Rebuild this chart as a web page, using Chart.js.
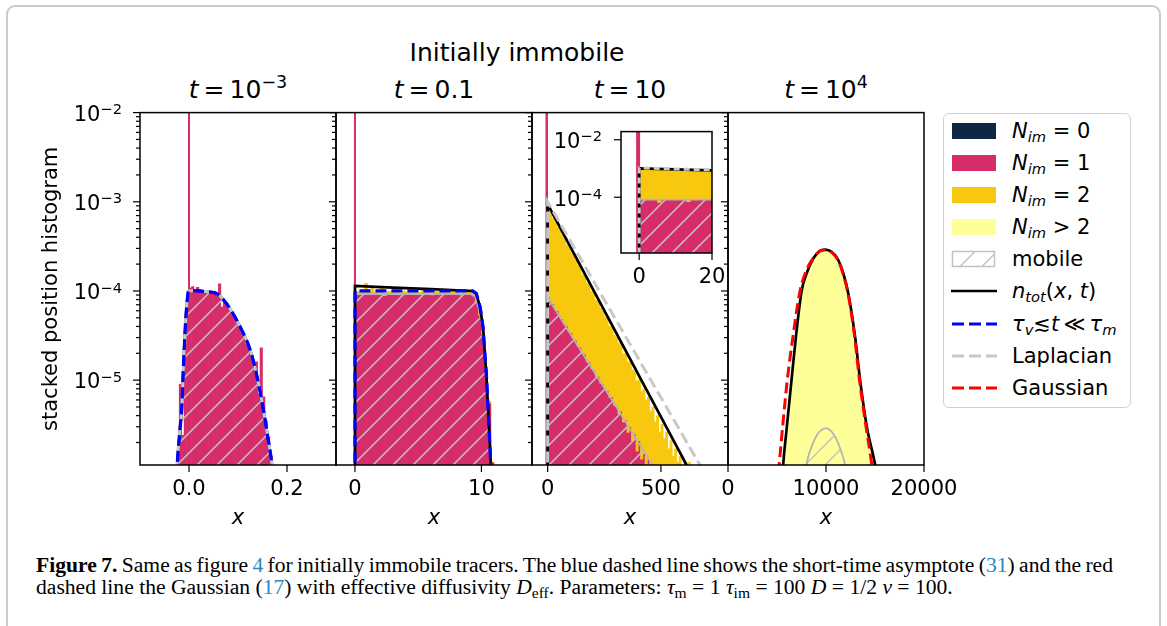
<!DOCTYPE html>
<html>
<head>
<meta charset="utf-8">
<title>Initially immobile</title>
<script src="https://cdn.jsdelivr.net/npm/chart.js@4/dist/chart.umd.min.js"></script>
<style>
  html, body { margin: 0; padding: 0; background: #fff; }
  body { width: 1167px; height: 626px; position: relative; overflow: hidden; font-family: "DejaVu Sans", sans-serif; color: #000; }
  .frame { position: absolute; left: 6px; top: 5px; width: 1155px; height: 700px; box-sizing: border-box; border: 2px solid #cbcbcb; border-radius: 9px; }
  canvas { position: absolute; }
  .ttl { position: absolute; white-space: nowrap; font-size: 25px; line-height: 30px; transform: translateX(-50%); }
  .ttl sup { font-size: 70%; line-height: 0; vertical-align: 0.55em; }
  .legend { position: absolute; left: 943px; top: 113px; width: 188px; height: 295px; box-sizing: border-box; border: 1.5px solid #d0d0d0; border-radius: 6px; background: #fff; }
  .lg { position: absolute; left: 0; height: 32px; width: 185px; }
  .lg svg { position: absolute; left: 7px; top: 7px; }
  .lg .t { position: absolute; left: 68px; top: 2px; font-size: 21px; line-height: 28px; white-space: nowrap; }
  .lg sub { font-size: 70%; line-height: 0; vertical-align: -0.3em; }
  .cap { position: absolute; left: 36px; font-family: "Liberation Serif", serif; font-size: 21.6px; line-height: 22px; white-space: nowrap; }
  .cap .ref { color: #2a88c0; }
  .cap sub { font-size: 72%; line-height: 0; vertical-align: -0.25em; }
</style>
</head>
<body>
<div class="frame"></div>

<div class="ttl" style="left:517px; top:38px">Initially immobile</div>
<div class="ttl" style="left:238px; top:75px"><i>t</i>&thinsp;=&thinsp;10<sup>−3</sup></div>
<div class="ttl" style="left:434px; top:75px"><i>t</i>&thinsp;=&thinsp;0.1</div>
<div class="ttl" style="left:630px; top:75px"><i>t</i>&thinsp;=&thinsp;10</div>
<div class="ttl" style="left:826px; top:75px"><i>t</i>&thinsp;=&thinsp;10<sup>4</sup></div>

<canvas id="c1" width="366" height="458" style="left:20px; top:82px"></canvas>
<canvas id="c2" width="266" height="458" style="left:316px; top:82px"></canvas>
<canvas id="c3" width="266" height="458" style="left:512px; top:82px"></canvas>
<canvas id="c4" width="266" height="458" style="left:708px; top:82px"></canvas>
<canvas id="c3in" width="197" height="193" style="left:545px; top:100px"></canvas>

<div class="legend">
  <div class="lg" style="top:0.5px"><svg width="46" height="18"><rect x="1" y="1" width="44" height="16" fill="#0d2745"/></svg><span class="t"><i>N</i><sub><i>im</i></sub> = 0</span></div>
  <div class="lg" style="top:32.5px"><svg width="46" height="18"><rect x="1" y="1" width="44" height="16" fill="#d62d6a"/></svg><span class="t"><i>N</i><sub><i>im</i></sub> = 1</span></div>
  <div class="lg" style="top:65px"><svg width="46" height="18"><rect x="1" y="1" width="44" height="16" fill="#f8c80e"/></svg><span class="t"><i>N</i><sub><i>im</i></sub> = 2</span></div>
  <div class="lg" style="top:97px"><svg width="46" height="18"><rect x="1" y="1" width="44" height="16" fill="#ffff99"/></svg><span class="t"><i>N</i><sub><i>im</i></sub> &gt; 2</span></div>
  <div class="lg" style="top:129px"><svg width="46" height="18"><rect x="1.5" y="1.5" width="42" height="15" fill="#fff" stroke="#c2c2c2" stroke-width="1.5"/><line x1="9" y1="16.5" x2="24" y2="1.5" stroke="#c2c2c2" stroke-width="1.5"/><line x1="31" y1="16.5" x2="43.5" y2="4" stroke="#c2c2c2" stroke-width="1.5"/></svg><span class="t">mobile</span></div>
  <div class="lg" style="top:161px"><svg width="46" height="18"><line x1="0" y1="9" x2="46" y2="9" stroke="#000" stroke-width="2.7"/></svg><span class="t"><i>n</i><sub><i>tot</i></sub>(<i>x</i>, <i>t</i>)</span></div>
  <div class="lg" style="top:194px"><svg width="46" height="18"><line x1="1" y1="9" x2="46" y2="9" stroke="#0000ff" stroke-width="3" stroke-dasharray="12 5"/></svg><span class="t"><i>τ</i><sub><i>v</i></sub>≲<i>t</i>&thinsp;≪&thinsp;<i>τ</i><sub><i>m</i></sub></span></div>
  <div class="lg" style="top:225.5px"><svg width="46" height="18"><line x1="1" y1="9" x2="46" y2="9" stroke="#c8c8c8" stroke-width="3" stroke-dasharray="12 5"/></svg><span class="t">Laplacian</span></div>
  <div class="lg" style="top:258px"><svg width="46" height="18"><line x1="1" y1="9" x2="46" y2="9" stroke="#ff0000" stroke-width="3" stroke-dasharray="12 5"/></svg><span class="t">Gaussian</span></div>
</div>

<div class="cap" id="cap1" style="top:553.7px"><b>Figure 7.</b> Same as figure <span class="ref">4</span> for initially immobile tracers. The blue dashed line shows the short-time asymptote (<span class="ref">31</span>) and the red</div>
<div class="cap" id="cap2" style="top:575.7px">dashed line the Gaussian (<span class="ref">17</span>) with effective diffusivity <i>D</i><sub>eff</sub>. Parameters: <i>τ</i><sub>m</sub>&nbsp;=&nbsp;1 <i>τ</i><sub>im</sub>&nbsp;=&nbsp;100 <i>D</i>&nbsp;=&nbsp;1/2 <i>ν</i>&nbsp;=&nbsp;100.</div>

<script>
// ---------- shared axes ----------
var yMin = 1.118e-6, yMax = 1e-2;
var yTicks = [2e-6, 3e-6, 4e-6, 5e-6, 6e-6, 7e-6, 8e-6, 9e-6,
  1e-5, 2e-5, 3e-5, 4e-5, 5e-5, 6e-5, 7e-5, 8e-5, 9e-5,
  1e-4, 2e-4, 3e-4, 4e-4, 5e-4, 6e-4, 7e-4, 8e-4, 9e-4,
  1e-3, 2e-3, 3e-3, 4e-3, 5e-3, 6e-3, 7e-3, 8e-3, 9e-3, 1e-2];

// ---------- panel 1 : t = 1e-3 ----------
var p1Ticks = [0, 0.2];
var p1TickLabels = ['0.0', '0.2'];
var p1Bins = [-0.0175, -0.0125, -0.0075, -0.0025, 0.0025, 0.0075, 0.0125, 0.0175, 0.0225, 0.0275,
  0.0325, 0.0375, 0.0425, 0.0475, 0.0525, 0.0575, 0.0625, 0.0675, 0.0725, 0.0775,
  0.0825, 0.0875, 0.0925, 0.0975, 0.1025, 0.1075, 0.1125, 0.1175, 0.1225, 0.1275,
  0.1325, 0.1375, 0.1425, 0.1475, 0.1525, 0.1575, 0.1625, 0.1675];
var p1Nim1 = [9e-6, 2.4e-6, 2.5e-5, 7.5e-5, 1.08e-4, 1.12e-4, 1.0e-4, 1.1e-4, 1.04e-4, 9.8e-5,
  1.0e-4, 9.5e-5, 9.9e-5, 9.2e-5, 9.4e-5, 8.8e-5, 1.2e-4, 6.6e-5, 7.6e-5, 7.2e-5,
  6.3e-5, 5.8e-5, 5.0e-5, 4.3e-5, 4.2e-5, 3.4e-5, 3.0e-5, 2.5e-5, 2.3e-5, 1.9e-5,
  1.5e-5, 1.6e-5, 7.0e-6, 2.3e-5, 6.5e-6, 3.5e-6, 2.3e-6, 1.4e-6];
var p1CurveX = [-0.026, -0.022, -0.018, -0.015, -0.0117, -0.0068, -0.003, -0.001, 0.01, 0.03,
  0.045, 0.057, 0.07, 0.084, 0.104, 0.125, 0.139, 0.152, 0.162, 0.169, 0.172];
var p1CurveY = [8e-7, 1.65e-6, 3.0e-6, 4.6e-6, 1.3e-5, 4.7e-5, 8.5e-5, 1.0e-4, 1.01e-4, 9.9e-5,
  9.7e-5, 9.35e-5, 8.0e-5, 6.3e-5, 4.0e-5, 2.17e-5, 1.09e-5, 4.6e-6, 2.1e-6, 1.17e-6, 8e-7];

// ---------- panel 2 : t = 0.1 ----------
var p2Ticks = [0, 10];
var p2TickLabels = ['0', '10'];
var p2Bins = [0.125, 0.375, 0.625, 0.875, 1.125, 1.375, 1.625, 1.875, 2.125, 2.375,
  2.625, 2.875, 3.125, 3.375, 3.625, 3.875, 4.125, 4.375, 4.625, 4.875,
  5.125, 5.375, 5.625, 5.875, 6.125, 6.375, 6.625, 6.875, 7.125, 7.375,
  7.625, 7.875, 8.125, 8.375, 8.625, 8.875, 9.125, 9.375, 9.625, 9.875,
  10.125, 10.375, 10.625, 10.875];
var p2Nim1 = [9.6e-5, 9.3e-5, 9.5e-5, 9.1e-5, 9.4e-5, 9.6e-5, 9.2e-5, 9.5e-5, 9.3e-5, 8.9e-5,
  9.4e-5, 9.5e-5, 9.2e-5, 9.4e-5, 9.0e-5, 9.5e-5, 9.3e-5, 9.6e-5, 9.2e-5, 9.4e-5,
  9.1e-5, 9.5e-5, 9.3e-5, 9.4e-5, 9.0e-5, 9.5e-5, 9.3e-5, 9.2e-5, 9.5e-5, 9.1e-5,
  9.4e-5, 9.3e-5, 9.5e-5, 9.0e-5, 9.3e-5, 9.4e-5, 9.2e-5, 8.8e-5, 7.6e-5, 5.4e-5,
  3.3e-5, 1.3e-5, 5.5e-6, 1.2e-6];
var p2Nim2Top = [1.0e-4, 9.8e-5, 1.0e-4, 1.22e-4, 9.9e-5, 1.1e-4, 9.7e-5, 1.0e-4, 1.07e-4, 9.4e-5,
  9.9e-5, 1.0e-4, 1.06e-4, 9.9e-5, 9.5e-5, 1.0e-4, 9.8e-5, 1.01e-4, 9.7e-5, 9.9e-5,
  9.6e-5, 1.05e-4, 9.8e-5, 9.9e-5, 9.5e-5, 1.0e-4, 9.8e-5, 9.7e-5, 1.0e-4, 9.6e-5,
  9.9e-5, 9.8e-5, 1.04e-4, 9.5e-5, 9.8e-5, 1.03e-4, 9.7e-5, 9.3e-5, 8.0e-5, 5.7e-5,
  3.5e-5, 1.4e-5, 5.8e-6, 1.2e-6];
var p2TotX = [0, 0, 3, 6, 9.3, 9.6, 9.9, 10.13, 10.4, 10.6, 10.75, 10.85];
var p2TotY = [1e-7, 1.14e-4, 1.09e-4, 1.05e-4, 1.0e-4, 9.3e-5, 6.5e-5, 3.9e-5, 1.09e-5, 3.0e-6, 1.1e-6, 5e-7];
var p2ShortX = [0, 0, 9.3, 9.6, 9.9, 10.13, 10.4, 10.6, 10.74, 10.85];
var p2ShortY = [1e-7, 1.0e-4, 1.0e-4, 9.35e-5, 6.6e-5, 3.95e-5, 1.09e-5, 3.0e-6, 1.12e-6, 5e-7];
var p2MobX = [0, 0, 9.2, 9.5, 9.8, 10.1, 10.4, 10.6, 10.75, 10.85];
var p2MobY = [1e-7, 9.3e-5, 9.2e-5, 8.6e-5, 6.3e-5, 3.8e-5, 1.05e-5, 2.9e-6, 1.0e-6, 5e-7];

// ---------- panel 3 : t = 10 ----------
var p3Ticks = [0, 500];
var p3TickLabels = ['0', '500'];
var p3Bins = [5, 15, 25, 35, 45, 55, 65, 75, 85, 95, 105, 115, 125, 135, 145, 155, 165, 175, 185, 195,
  205, 215, 225, 235, 245, 255, 265, 275, 285, 295, 305, 315, 325, 335, 345, 355, 365, 375, 385, 395,
  405, 415, 425, 435, 445, 455, 465, 475, 485, 495, 505, 515, 525, 535, 545, 555, 565, 575, 585, 595,
  605, 615, 625, 635, 645, 655];
var p3Nim1 = [8.6e-5, 7.6e-5, 7.2e-5, 6.2e-5, 6.0e-5, 5.2e-5, 4.9e-5, 4.3e-5, 4.1e-5, 3.5e-5,
  3.4e-5, 2.9e-5, 2.8e-5, 2.4e-5, 2.35e-5, 2.0e-5, 1.95e-5, 1.6e-5, 1.6e-5, 1.35e-5,
  1.3e-5, 1.1e-5, 1.1e-5, 9.2e-6, 9.0e-6, 7.8e-6, 7.6e-6, 6.4e-6, 6.5e-6, 5.2e-6,
  5.0e-6, 4.2e-6, 4.5e-6, 3.4e-6, 3.6e-6, 2.6e-6, 3.0e-6, 2.1e-6, 2.5e-6, 1.6e-6,
  2.1e-6, 1.3e-6, 1.5e-6, null, 1.3e-6, null, null, null, null, null,
  null, null, null, null, null, null, null, null, null, null,
  null, null, null, null, null, null];
var p3Nim2Top = [8.3e-4, 7.5e-4, 6.5e-4, 6.0e-4, 5.2e-4, 4.8e-4, 4.2e-4, 3.9e-4, 3.3e-4, 3.1e-4,
  2.7e-4, 2.5e-4, 2.2e-4, 1.95e-4, 1.8e-4, 1.55e-4, 1.45e-4, 1.25e-4, 1.15e-4, 1.0e-4,
  9.3e-5, 8.0e-5, 7.5e-5, 6.4e-5, 6.0e-5, 5.1e-5, 4.9e-5, 4.1e-5, 3.9e-5, 3.2e-5,
  3.1e-5, 2.6e-5, 2.5e-5, 2.0e-5, 2.0e-5, 1.6e-5, 1.6e-5, 1.3e-5, 1.25e-5, 1.0e-5,
  1.05e-5, 7.5e-6, 8.0e-6, 6.0e-6, 6.5e-6, 4.5e-6, 5.0e-6, 3.4e-6, 4.0e-6, 2.6e-6,
  3.2e-6, 2.2e-6, 2.6e-6, 1.7e-6, 2.1e-6, 1.4e-6, 1.7e-6, 1.2e-6, 1.4e-6, null,
  1.25e-6, null, 1.2e-6, null, null, null];
var p3Nim3X = [155, 175, 195, 215, 245, 275, 305, 335, 365, 395, 425];
var p3Nim3Top = [1.72e-4, 1.38e-4, 1.1e-4, 8.8e-5, 6.6e-5, 4.6e-5, 3.4e-5, 2.25e-5, 1.75e-5, 1.12e-5, 8.8e-6];
var p3TotX = [0, 0, 613, 700];
var p3TotY = [1e-7, 9.4e-4, 1.12e-6, 4.3e-7];
var p3LapX = [0, 0, 672, 760];
var p3LapY = [1e-7, 1.0e-3, 1.12e-6, 4.6e-7];
var p3MobX = [0, 0, 100, 200, 300, 400, 470, 520];
var p3MobY = [1e-7, 8.5e-5, 3.3e-5, 1.3e-5, 5.2e-6, 2.0e-6, 1.05e-6, 6e-7];

// inset of panel 3
var inTicksX = [0, 20];
var inTickLabelsX = ['0', '20'];
var inTicksY = [1e-4, 1e-2];
var inBins = [0.5, 1.5, 2.5, 3.5, 4.5, 5.5, 6.5, 7.5, 8.5, 9.5, 10.5, 11.5, 12.5, 13.5, 14.5, 15.5, 16.5, 17.5, 18.5, 19.5];
var inNim1 = [8.8e-5, 8.6e-5, 8.9e-5, 8.7e-5, 8.5e-5, 6.6e-5, 8.8e-5, 8.6e-5, 8.9e-5, 8.4e-5,
  8.7e-5, 8.8e-5, 8.5e-5, 7.0e-5, 8.6e-5, 8.8e-5, 8.5e-5, 8.9e-5, 8.6e-5, 9.0e-5];
var inNim2Top = [1.0e-3, 1.02e-3, 9.9e-4, 9.8e-4, 9.8e-4, 9.6e-4, 9.7e-4, 9.5e-4, 9.5e-4, 9.4e-4,
  9.3e-4, 9.3e-4, 9.2e-4, 9.1e-4, 9.1e-4, 9.0e-4, 8.9e-4, 8.9e-4, 8.8e-4, 8.7e-4];
var inTotX = [0, 0, 21];
var inTotY = [1e-7, 1.01e-3, 8.6e-4];
var inLapX = [0, 0, 21];
var inLapY = [1e-7, 1.04e-3, 8.9e-4];
var inMobX = [0, 0, 21];
var inMobY = [1e-7, 8.2e-5, 8.2e-5];

// ---------- panel 4 : t = 1e4 ----------
var p4Ticks = [0, 10000, 20000];
var p4TickLabels = ['0', '10000', '20000'];
var p4Bins = [5875, 6125, 6375, 6625, 6875, 7125, 7375, 7625, 7875, 8125, 8375, 8625, 8875, 9125, 9375,
  9625, 9875, 10125, 10375, 10625, 10875, 11125, 11375, 11625, 11875, 12125, 12375, 12625, 12875,
  13125, 13375, 13625, 13875, 14125, 14375, 14625, 14875];
var p4NimMore = [1.9e-6, 3.8e-6, 7.3e-6, 1.35e-5, 2.5e-5, 4.3e-5, 7.2e-5, 1.05e-4, 1.32e-4, 1.6e-4, 1.88e-4,
  2.12e-4, 2.36e-4, 2.55e-4, 2.7e-4, 2.8e-4, 2.84e-4, 2.8e-4, 2.74e-4, 2.64e-4, 2.45e-4, 2.25e-4,
  2.02e-4, 1.68e-4, 1.36e-4, 1.06e-4, 7.6e-5, 5.2e-5, 3.4e-5, 2.1e-5, 1.2e-5, 7.4e-6, 4.7e-6,
  3.0e-6, 2.2e-6, 1.7e-6, 1.25e-6];
var p4TotX = [5500, 5630, 5970, 6480, 6930, 7510, 8020, 8700, 9390, 9900, 10580, 11260, 11770, 12280, 12970, 13480, 14165, 15015, 15150];
var p4TotY = [6e-7, 1.12e-6, 2.75e-6, 1.0e-5, 3.05e-5, 1.0e-4, 1.57e-4, 2.31e-4, 2.81e-4, 2.91e-4, 2.74e-4, 2.21e-4, 1.57e-4, 9.3e-5, 3.05e-5, 1.0e-5, 3.0e-6, 1.12e-6, 9e-7];
var p4GaussX = [5000, 5220, 5600, 6050, 6650, 7350, 8000, 8700, 9400, 9950, 10600, 11250, 11750, 12250, 12900, 13420, 14050, 14680, 14850];
var p4GaussY = [6e-7, 1.12e-6, 3.2e-6, 1.0e-5, 3.2e-5, 1.0e-4, 1.7e-4, 2.34e-4, 2.82e-4, 2.88e-4, 2.69e-4, 2.19e-4, 1.55e-4, 9.3e-5, 3.2e-5, 1.0e-5, 3.2e-6, 1.12e-6, 8e-7];
var p4MobX = [7900, 8020, 8500, 9000, 9500, 10000, 10500, 11000, 11500, 11950, 12100];
var p4MobY = [8e-7, 1.12e-6, 1.75e-6, 2.35e-6, 2.75e-6, 2.9e-6, 2.7e-6, 2.25e-6, 1.65e-6, 1.12e-6, 9e-7];

// ---------- colours ----------
var PINK = '#d62d6a', GOLD = '#f8c80e', PALE = '#ffff99', NAVY = '#0d2745';
var LAPGRAY = '#c8c8c8', MOBGRAY = '#b4b4b4';

Chart.defaults.font.family = 'DejaVu Sans';
Chart.defaults.color = '#000';

function isPow10(v) {
  var l = Math.log10(v);
  return Math.abs(l - Math.round(l)) < 1e-6;
}

// diagonal hatch used for the "mobile" histogram
var hatch = (function() {
  var c = document.createElement('canvas');
  c.width = 20; c.height = 20;
  var g = c.getContext('2d');
  g.strokeStyle = '#c4c4c4';
  g.lineWidth = 1.5;
  g.beginPath();
  g.moveTo(0, 20); g.lineTo(20, 0);
  g.moveTo(-5, 5); g.lineTo(5, -5);
  g.moveTo(15, 25); g.lineTo(25, 15);
  g.stroke();
  return g.createPattern(c, 'repeat');
})();

function pts(xs, ys) {
  return xs.map(function(x, i) { return {x: x, y: ys[i]}; });
}
// floating bars, lo..hi ; lo missing -> from the bottom of the axis
function bars(xs, lo, hi) {
  return xs.map(function(x, i) {
    if (hi[i] == null) return {x: x, y: null};
    var b = lo ? lo[i] : null;
    return {x: x, y: [b == null ? yMin : b, hi[i]]};
  });
}
function barSet(data, color) {
  return {type: 'bar', data: data, backgroundColor: color, borderWidth: 0};
}
function lineSet(data, color, width, dash, extra) {
  var d = {type: 'line', data: data, borderColor: color, borderWidth: width, borderDash: dash || [],
    pointRadius: 0, fill: false, tension: 0};
  for (var k in extra) d[k] = extra[k];
  return d;
}
function mobileSet(data, extra) {
  var d = {type: 'line', data: data, borderColor: MOBGRAY, borderWidth: 1.8, backgroundColor: hatch,
    pointRadius: 0, fill: 'start', tension: 0};
  for (var k in extra) d[k] = extra[k];
  return d;
}
function spikeSet(x, w) {
  return lineSet([{x: x, y: 1e-7}, {x: x, y: 1}], PINK, w);
}

// "10" with a raised exponent, right aligned at xr, centred on y
function drawPow(ctx, v, xr, y) {
  var e = Math.round(Math.log10(v));
  var ex = (e < 0 ? '\u2212' : '') + Math.abs(e);
  ctx.font = '14.7px "DejaVu Sans"';
  var we = ctx.measureText(ex).width;
  ctx.font = '21px "DejaVu Sans"';
  var wb = ctx.measureText('10').width;
  ctx.textAlign = 'left';
  ctx.textBaseline = 'alphabetic';
  ctx.fillStyle = '#000';
  ctx.fillText('10', xr - we - wb, y + 8.3);
  ctx.font = '14.7px "DejaVu Sans"';
  ctx.fillText(ex, xr - we, y + 1.6);
}

// axes box + matplotlib-like tick marks and log labels
Chart.register({
  id: 'frame',
  beforeDraw: function(chart, args, opts) {
    if (!opts.whiteBg) return;
    var a = chart.chartArea, ctx = chart.ctx;
    ctx.save();
    ctx.fillStyle = '#fff';
    ctx.fillRect(a.left, a.top, a.right - a.left, a.bottom - a.top);
    ctx.restore();
  },
  afterDraw: function(chart, args, opts) {
    var a = chart.chartArea, ctx = chart.ctx, xs = chart.scales.x, ys = chart.scales.y;
    ctx.save();
    ctx.strokeStyle = '#000';
    ctx.lineWidth = 1.2;
    ys.ticks.forEach(function(t) {
      var py = ys.getPixelForValue(t.value);
      var major = isPow10(t.value);
      var len = major ? 7 : 4;
      ctx.beginPath(); ctx.moveTo(a.left - len, py); ctx.lineTo(a.left, py); ctx.stroke();
      if (major && opts.labelGap) drawPow(ctx, t.value, a.left - opts.labelGap, py);
    });
    xs.ticks.forEach(function(t) {
      var px = xs.getPixelForValue(t.value);
      ctx.beginPath(); ctx.moveTo(px, a.bottom); ctx.lineTo(px, a.bottom + 7); ctx.stroke();
    });
    ctx.lineWidth = 1.5;
    ctx.strokeRect(a.left, a.top, a.right - a.left, a.bottom - a.top);
    ctx.restore();
  }
});

function makePanel(id, p) {
  return new Chart(document.getElementById(id), {
    type: 'bar',
    data: {datasets: p.datasets},
    options: {
      responsive: false,
      animation: false,
      events: [],
      layout: {padding: {top: p.padTop, right: p.padRight, left: 0, bottom: 0}},
      plugins: {legend: {display: false}, tooltip: {enabled: false},
        frame: {whiteBg: !!p.whiteBg, labelGap: p.yLabels ? p.yPad : 0}},
      datasets: {bar: {barPercentage: 1, categoryPercentage: 1, grouped: false}},
      scales: {
        x: {
          type: 'linear', min: p.xMin, max: p.xMax, offset: false,
          grid: {display: false, drawTicks: false}, border: {display: false},
          afterBuildTicks: function(s) { s.ticks = p.xTicks.map(function(v) { return {value: v}; }); },
          afterFit: function(s) { s.height = p.xHeight; },
          ticks: {autoSkip: false, maxRotation: 0, padding: p.xPad, font: {size: 21}, color: '#000',
            callback: function(v, i) { return p.xLabels[i]; }},
          title: {display: !!p.xTitle, text: 'x', color: '#000', font: {size: 21, style: 'italic'}, padding: {top: 0, bottom: 9}}
        },
        y: {
          type: 'logarithmic', min: p.yMin, max: p.yMax,
          grid: {display: false, drawTicks: false}, border: {display: false},
          afterBuildTicks: function(s) { s.ticks = p.yTicks.map(function(v) { return {value: v}; }); },
          afterFit: function(s) { s.width = p.yWidth; },
          ticks: {autoSkip: false, padding: p.yPad, font: {size: 21}, color: '#000',
            callback: function() { return ''; }},
          title: {display: !!p.yTitle, text: 'stacked position histogram', color: '#000', font: {size: 21}, padding: {top: 19, bottom: 0}}
        }
      }
    }
  });
}

var base = {padTop: 30, padRight: 50, xHeight: 75, xPad: 12, yMin: yMin, yMax: yMax, yTicks: yTicks, yPad: 18, xTitle: true};
function extend(o) { var r = {}; for (var k in base) r[k] = base[k]; for (k in o) r[k] = o[k]; return r; }

// panel 1
makePanel('c1', extend({
  xMin: -0.1, xMax: 0.3, xTicks: p1Ticks, xLabels: p1TickLabels, yWidth: 120, yLabels: true, yTitle: true,
  datasets: [
    lineSet(pts(p1CurveX, p1CurveY), '#0000ff', 3.2, [11, 5], {cubicInterpolationMode: 'monotone'}),
    lineSet(pts(p1CurveX, p1CurveY), LAPGRAY, 3, [11, 5], {cubicInterpolationMode: 'monotone', borderDashOffset: 8}),
    lineSet(pts(p1CurveX, p1CurveY), '#000', 2.7, [], {cubicInterpolationMode: 'monotone'}),
    mobileSet(pts(p1CurveX, p1CurveY), {cubicInterpolationMode: 'monotone', borderWidth: 0}),
    spikeSet(0, 2),
    barSet(bars(p1Bins, null, p1Nim1), PINK)
  ]
}));

// panel 2
makePanel('c2', extend({
  xMin: -1.5, xMax: 14, xTicks: p2Ticks, xLabels: p2TickLabels, yWidth: 20, yLabels: false,
  datasets: [
    lineSet(pts(p2ShortX, p2ShortY), '#0000ff', 3.2, [11, 5]),
    lineSet(pts(p2TotX, p2TotY), '#000', 2.7),
    mobileSet(pts(p2MobX, p2MobY)),
    spikeSet(0, 2),
    barSet(bars(p2Bins, p2Nim1, p2Nim2Top), GOLD),
    barSet(bars(p2Bins, null, p2Nim1), PINK)
  ]
}));

// panel 3
var p3Nim3Lo = p3Nim3X.map(function(x) { return p3Nim2Top[p3Bins.indexOf(x)]; });
makePanel('c3', extend({
  xMin: -69, xMax: 796, xTicks: p3Ticks, xLabels: p3TickLabels, yWidth: 20, yLabels: false,
  datasets: [
    lineSet(pts(p3LapX, p3LapY), LAPGRAY, 3, [11, 5]),
    lineSet(pts(p3TotX, p3TotY), '#000', 2.7),
    mobileSet(pts(p3MobX, p3MobY)),
    spikeSet(-4, 2.5),
    barSet(bars(p3Nim3X, p3Nim3Lo, p3Nim3Top), PALE),
    barSet(bars(p3Bins, p3Nim1, p3Nim2Top), GOLD),
    barSet(bars(p3Bins, null, p3Nim1), PINK)
  ]
}));

// panel 4
makePanel('c4', extend({
  xMin: 0, xMax: 20000, xTicks: p4Ticks, xLabels: p4TickLabels, yWidth: 20, yLabels: false,
  datasets: [
    lineSet(pts(p4GaussX, p4GaussY), '#ff0000', 3, [11, 5], {cubicInterpolationMode: 'monotone'}),
    lineSet(pts(p4TotX, p4TotY), '#000', 2.7, [], {cubicInterpolationMode: 'monotone'}),
    mobileSet(pts(p4MobX, p4MobY), {cubicInterpolationMode: 'monotone'}),
    barSet(bars(p4Bins, null, p4NimMore), PALE)
  ]
}));

// inset in panel 3
makePanel('c3in', {
  padTop: 23, padRight: 30, xHeight: 40, xPad: 12, yPad: 19, yWidth: 76, yLabels: true,
  xMin: -5, xMax: 20, yMin: 1.15e-6, yMax: 0.0192, xTicks: inTicksX, xLabels: inTickLabelsX, yTicks: inTicksY,
  whiteBg: true,
  datasets: [
    lineSet(pts(inLapX, inLapY), LAPGRAY, 3, [6, 4]),
    lineSet(pts(inTotX, inTotY), '#000', 2.7),
    mobileSet(pts(inMobX, inMobY)),
    spikeSet(-0.3, 4),
    barSet(bars(inBins, inNim1, inNim2Top), GOLD),
    barSet(bars(inBins, null, inNim1), PINK)
  ]
});

// justify first caption line to the column width
var cap1 = document.getElementById('cap1');
var natural = cap1.getBoundingClientRect().width;
var gaps = (cap1.textContent.match(/ /g) || []).length;
if (gaps) cap1.style.wordSpacing = ((1077 - natural) / gaps) + 'px';
</script>
</body>
</html>
